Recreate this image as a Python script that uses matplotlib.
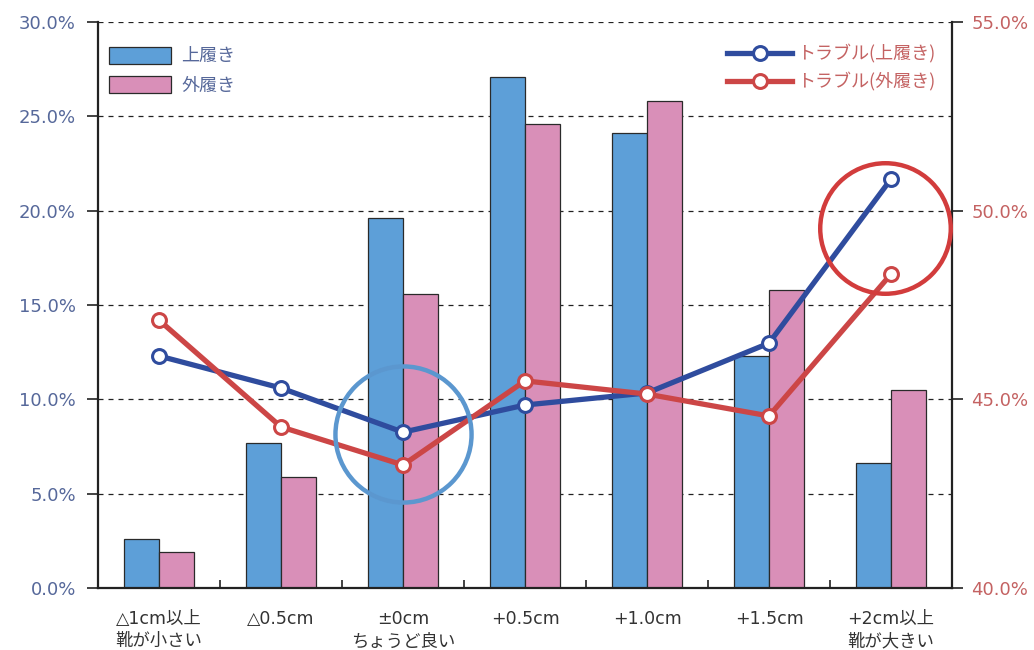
import matplotlib
matplotlib.use("Agg")
import matplotlib.pyplot as plt
import numpy as np
from matplotlib.ticker import FuncFormatter, MultipleLocator

plt.rcParams['font.family'] = ['DejaVu Sans', 'Noto Sans CJK JP']

categories = ["△1cm以上\n靴が小さい", "△0.5cm", "±0cm\nちょうど良い", "+0.5cm",
              "+1.0cm", "+1.5cm", "+2cm以上\n靴が大きい"]
indoor_share = [2.6, 7.7, 19.6, 27.1, 24.1, 12.3, 6.6]
outdoor_share = [1.9, 5.9, 15.6, 24.6, 25.8, 15.8, 10.5]
indoor_trouble = [46.15, 45.30, 44.13, 44.85, 45.17, 46.49, 50.84]
outdoor_trouble = [47.10, 44.27, 43.26, 45.49, 45.14, 44.56, 48.32]

BAR_BLUE = "#5d9fd8"
BAR_PINK = "#d98fb8"
LINE_BLUE = "#2f4c9e"
LINE_RED = "#cc4646"
LEFT_TXT = "#56689a"
RIGHT_TXT = "#c46262"
CJK = ['Noto Sans CJK JP', 'DejaVu Sans']
MIXED = ['DejaVu Sans', 'Noto Sans CJK JP']

fig = plt.figure(figsize=(10.34, 6.5), dpi=100)
ax = fig.add_axes([0.0948, 0.0954, 0.8259, 0.8706])
x = np.arange(len(categories))
w = 0.29

ax.bar(x - w / 2, indoor_share, w, color=BAR_BLUE, edgecolor="#2a2a2a", linewidth=0.9,
       label="上履き", zorder=2)
ax.bar(x + w / 2, outdoor_share, w, color=BAR_PINK, edgecolor="#2a2a2a", linewidth=0.9,
       label="外履き", zorder=2)

ax.set_xlim(-0.5, len(categories) - 0.5)
ax.set_ylim(0, 30)
ax.yaxis.set_major_locator(MultipleLocator(5))
ax.yaxis.set_major_formatter(FuncFormatter(lambda v, p: f"{v:.1f}%"))
for yv in np.arange(5, 31, 5):
    ax.axhline(yv, color="#222222", lw=0.9, ls=(0, (4, 4)), zorder=1)

ax.set_xticks(x)
ax.set_xticklabels(categories, fontsize=12.5, color="#333333", linespacing=1.3,
                   family=MIXED)
ax.set_xticks(np.arange(0.5, len(categories) - 1, 1), minor=True)
ax.tick_params(axis="x", which="major", length=0, pad=16)
ax.tick_params(axis="x", which="minor", direction="in", length=6, width=1.2, color="#222222")
ax.tick_params(axis="y", colors="#222222", labelcolor=LEFT_TXT, labelsize=13,
               direction="out", length=8, width=1.2, pad=8)

for s in ["left", "bottom"]:
    ax.spines[s].set_linewidth(1.6)
    ax.spines[s].set_color("#222222")
ax.spines["top"].set_visible(False)
ax.spines["right"].set_visible(False)

ax2 = ax.twinx()
ax2.set_ylim(40, 55)
ax2.yaxis.set_major_locator(MultipleLocator(5))
ax2.yaxis.set_major_formatter(FuncFormatter(lambda v, p: f"{v:.1f}%"))
ax2.tick_params(axis="y", colors="#222222", labelcolor=RIGHT_TXT, labelsize=13,
                direction="out", length=8, width=1.2, pad=6)
for s in ["left", "top", "bottom"]:
    ax2.spines[s].set_visible(False)
ax2.spines["right"].set_linewidth(1.6)
ax2.spines["right"].set_color("#222222")

ax2.plot(x, indoor_trouble, color=LINE_BLUE, lw=3.8, marker="o", ms=10,
         mfc="white", mec=LINE_BLUE, mew=2.2, label="トラブル(上履き)", zorder=4)
ax2.plot(x, outdoor_trouble, color=LINE_RED, lw=3.8, marker="o", ms=10,
         mfc="white", mec=LINE_RED, mew=2.2, label="トラブル(外履き)", zorder=4)

# highlight rings around the sweet spot and the oversized end
ax2.plot([2], [44.07], marker="o", ms=98, mfc="none", mec="#5b97cf", mew=3.2, zorder=5)
ax2.plot([6 - 0.05], [49.55], marker="o", ms=94, mfc="none", mec="#d23c3c", mew=3.2, zorder=5)

leg1 = ax.legend(loc="upper left", bbox_to_anchor=(-0.006, 0.985), frameon=False,
                 prop={'family': CJK, 'size': 13}, handlelength=3.4, handleheight=1.05,
                 labelspacing=0.6, handletextpad=0.6)
for t in leg1.get_texts():
    t.set_color(LEFT_TXT)
leg2 = ax2.legend(loc="upper right", bbox_to_anchor=(1.0, 0.99), frameon=False,
                  prop={'family': CJK, 'size': 13}, handlelength=3.6,
                  labelspacing=0.5, handletextpad=0.3)
for t in leg2.get_texts():
    t.set_color(RIGHT_TXT)

fig.savefig("out.png", dpi=100)
